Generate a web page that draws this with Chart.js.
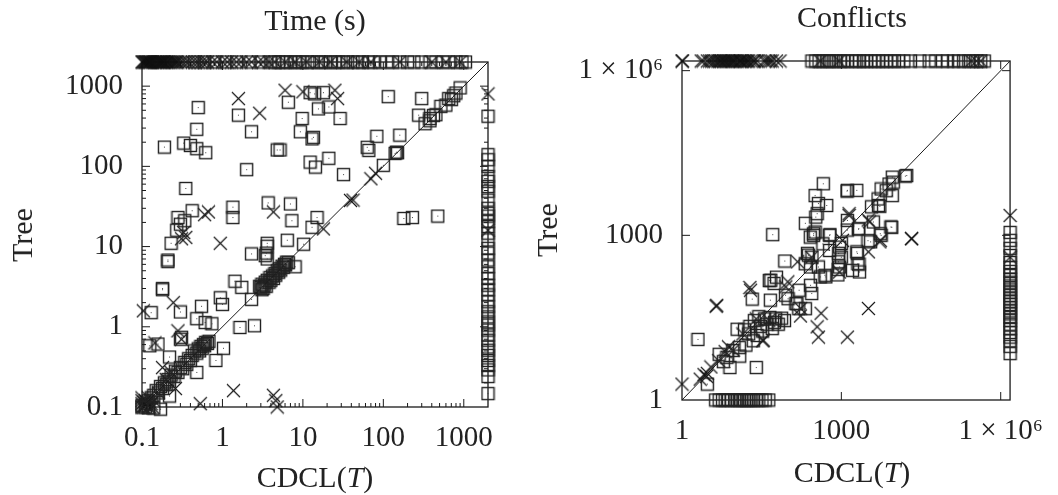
<!DOCTYPE html>
<html>
<head>
<meta charset="utf-8">
<script src="https://cdn.jsdelivr.net/npm/chart.js@4.4.1/dist/chart.umd.min.js"></script>
<style>
  body { margin:0; background:#fff; width:1058px; height:495px; overflow:hidden; position:relative;
         font-family:"Liberation Serif", serif; color:#222; }
  .box { position:absolute; top:0; width:529px; height:495px; }
  .lbl { position:absolute; font-size:30px; white-space:nowrap; transform:translate(-50%,-50%); }
  .rot { transform:translate(-50%,-50%) rotate(-90deg); }
</style>
</head>
<body>
<div class="box" style="left:0"><canvas id="c-time" width="529" height="495"></canvas></div>
<div class="box" style="left:529px"><canvas id="c-conf" width="529" height="495"></canvas></div>

<div class="lbl" style="left:315px;top:20px">Time (s)</div>
<div class="lbl rot" style="left:22px;top:235px">Tree</div>
<div class="lbl" style="left:315px;top:477px">CDCL(<i>T</i>)</div>
<div class="lbl" style="left:852px;top:17px">Conflicts</div>
<div class="lbl rot" style="left:547px;top:230px">Tree</div>
<div class="lbl" style="left:852px;top:472px">CDCL(<i>T</i>)</div>

<script>
// ---- Time (s) ----
const timeCap = 2000;
const timeTicks = [0.1, 1, 10, 100, 1000];
const timeSquares = [
  [0.50,540],[0.48,290],[0.19,174],[0.33,195],[0.40,182],[0.48,166],[0.62,148],
  [1.58,435],[2.3,270],[2.0,91],[0.35,53],[0.42,28],[0.28,23],[0.34,21],[0.30,19],[0.27,16],[0.23,11],
  [1.35,31],[1.35,23],[3.7,35],[4.8,160],[0.21,6.8],[0.21,6.5],[0.18,3.0],[0.18,2.9],[0.13,1.5],[0.30,1.53],[0.55,1.8],[0.94,2.3],[1.0,1.9],
  [0.48,1.26],[0.61,1.13],[0.74,1.09],[1.65,0.98],[2.5,1.03],[0.125,0.58],[0.158,0.61],[0.22,0.42],[0.31,0.74],[0.30,0.7],
  [1.03,0.54],[0.83,0.38],[0.48,0.27],[0.22,0.137],[0.17,0.094],[1.43,3.7],[1.74,3.1],[2.3,2.2],[2.3,8.1],[3.4,7.7],[3.6,10.1],
  [6.6,630],[12.3,830],[14,800],[18,830],[15.6,520],[21,550],[9.8,395],[9.3,270],[13.5,230],[13,220],[29,395],[5.2,160],[12.3,113],[14.3,98],[21,126],[32,79],
  [115,740],[300,700],[275,435],[380,395],[83,237],[160,245],[63,173],[66,158],[140,145],[145,150],[150,148],[100,103],
  [180,22.4],[230,23],[475,24],[7,34],[7.3,21],[13,17.4],[15,23],[10.2,10.7],[3.6,11],[3.5,8.3],[3.6,7],[6.4,12],[8,5.6],
  [330,340],[380,370],[420,430],[450,440],[520,560],[600,580],[650,700],[700,680],[750,760],[800,820],[900,950],
  [3.0,3.1],[3.1,3.4],[3.2,3.0],[3.3,3.3],[3.4,3.6],[3.5,3.2],[3.6,3.8],[3.8,3.6],[3.9,4.1],[4.0,3.8],[4.2,4.3],[4.3,4.0],[4.5,4.6],
  [4.6,4.4],[4.8,5.0],[5.0,4.8],[5.1,5.3],[5.3,5.1],[5.5,5.7],[5.7,5.5],[5.9,6.0],[6.1,5.9],[6.3,6.4],[6.6,6.3],[2.9,3.2],[3.1,2.9],
  [0.45,0.5],[0.48,0.47],[0.5,0.53],[0.52,0.5],[0.54,0.57],[0.56,0.54],[0.58,0.6],[0.6,0.58],[0.62,0.64],[0.65,0.62],[0.68,0.66],
  [0.42,0.44],[0.4,0.38],[0.38,0.4],[0.36,0.34],[0.34,0.36],[0.32,0.3],[0.3,0.31],[0.28,0.27],[0.26,0.28],[0.25,0.24],[0.23,0.25],
  [0.22,0.21],[0.21,0.22],[0.2,0.19],[0.19,0.2],[0.18,0.17],[0.17,0.18],[0.16,0.15],[0.15,0.16],[0.14,0.14],[0.13,0.13],[0.12,0.12],
  [0.115,0.11],[0.11,0.1],[0.1,0.105],[0.1,0.1],[0.14,0.097],[0.12,0.098]
];
// timeouts of CDCL(T): plotted on the right edge (x = cap)
const timeColumnSq = [422,140,121,100,75,65,56,49,38,30,26,24,20.5,17.8,14.7,12.1,9.5,8.3,6.8,5.6,4.6,4.0,3.3,2.9,2.5,
  2.05,1.78,1.54,1.33,1.15,1.05,0.91,0.79,0.68,0.56,0.51,0.44,0.38,0.33,0.29,0.24,0.147];
const timeColumnCr = [800, 16];
// timeouts of Tree: plotted on the top edge (y = cap)
const timeTopSq = [0.45,0.6,0.8,1.1,1.5,2.2,3,4,4.5,5,5.5,6.2,7,8,9,10,11.5,13,15,17,19,22,25,28,32,36,42,48,55,65,75,90,
  110,130,160,200,240,300,380,450,550,650,800,950,1050];
const timeTopCr = [0.1,0.102,0.105,0.108,0.11,0.113,0.115,0.118,0.12,0.123,0.125,0.128,0.13,0.135,0.14,0.145,0.15,0.155,
  0.16,0.165,0.17,0.175,0.18,0.185,0.19,0.2,0.205,0.21,0.22,0.23,0.24,0.25,0.26,0.27,0.28,0.3,0.32,
  0.35,0.38,0.42,0.46,0.5,0.55,0.6,0.65,0.75,0.85,1.0,1.15,1.3,1.5,1.7,2.0,2.3,2.8,3.2,3.8,4.5,6,8,11,16,22,35,50,70,160,400,600,900];
const timeCrosses = [
  [1.58,700],[2.9,460],[6.0,890],[10,850],[25,890],[27,700],[0.67,27],[0.6,25],[4.3,27],[0.33,15],[0.31,12.5],[0.35,13],
  [0.94,11],[0.245,2.0],[0.104,1.58],[0.28,0.89],[0.31,0.7],[0.145,0.63],[0.18,0.31],[0.26,0.17],[1.37,0.16],[0.53,0.11],
  [4.3,0.14],[4.6,0.12],[4.8,0.1],[39,37.6],[42,38],[70,70],[80,82],[18,16.6],
  [0.1,0.1],[0.105,0.1],[0.11,0.105],[0.1,0.11],[0.12,0.1],[0.115,0.115],[0.13,0.11],[0.1,0.12],[0.125,0.1],[0.11,0.12],
  [0.14,0.12],[0.1,0.13],[0.12,0.13],[0.105,0.115],[0.135,0.1],[0.16,0.15],[0.2,0.22],[0.23,0.27]
];

// ---- Conflicts ----
const confCap = 1.5e6;
const confTicks = [1, 1000, 1e6];
const confTickText = ['1', '1000', '1 × 10⁶'];
const confSquares = [
  [2.0,12.7],[3.0,1.95],[5.0,6.8],[8.0,3.9],[12.2,6.3],[25,3.9],[10.9,19.5],[21,69],[47,152],[60,173],[46,66],[15,19],[19,22],
  [23,28],[28,33],[36,30],[45,32],[58,30],[75,31],[30,22],[40,24],[50,20],[65,24],[18,16],[26,15],[33,18],[55,26],[85,28],
  [22,12],[16,10],[12,9],[9,8],[7,6],[6,5],
  [51,1030],[86,340],[99,70],[263,123],[160,100],[140,57],[210,46],
  [300,1070],[300,1000],[600,530],[490,187],[400,175],[263,265],[230,470],[280,400],[890,470],[880,330],[870,240],[860,190],
  [1950,500],[2050,305],[2200,215],[1000,710],[610,1030],[1300,1870],[2130,1320],[4000,1750],[3550,760],[5600,1000],
  [8600,1420],[5300,3380],[457,8700],[320,5300],[370,3800],[530,3500],[350,2480],[1300,6600],[1950,6600],[9100,11500],
  [16000,12000],[7900,8600],[9100,5300],[5600,7000],[4900,4600],[3700,3300],[2100,1300],[1300,1250],[600,1000],[450,700],
  [210,1660],[260,930],[320,1150],[330,2150],
  [44,150],[54,133],[89,81],[146,57],[158,46],[277,87],[510,175],[370,265],[240,435],[209,303],[925,610],[1000,400],[925,265],
  [1620,230],[2000,470],[2150,300],[3170,800],[5400,1070],[8900,1400],[5000,3500],[1280,6400],[7000,6500],[9500,9300],[17000,12300]
];
const confBottomSq = [4.3,5,5.8,6.5,7.5,8.5,10,11,12,13.5,15,16.5,18,20,22,25,28,32,37,43];
const confColumnSq = [1130,810,580,430,320,260,220,185,160,140,120,105,92,80,70,62,55,48,42,37,32,28,24,20,17,14,12,9.5,7];
const confColumnCr = [2300, 400];
const confTopSq = [280,330,380,450,520,600,700,800,950,1100,1300,1600,1900,2200,2600,3000,3600,4300,5000,6000,7000,8500,
  10000,12000,15000,20000,30000,45000,60000,80000,100000,130000,160000,200000,250000,300000,360000,420000,490000];
const confTopCr = [1,1.02,2.3,2.5,3,3.3,3.6,4,4.3,4.7,5,5.3,5.6,6,6.3,6.7,7,7.5,8,8.5,9,9.5,10,11,12,12.5,13,14,15,16,
  17,18,20,22,23,26,35,38,42,46,50,60,70,400,900,280000,350000,420000];
const confCrosses = [
  [1,1.95],[2.9,2.7],[3.0,3.05],[4.5,53],[4.4,51],[4.9,5.2],[7.5,9.3],[9.2,8.1],[6.5,7.6],[19,112],[19.5,100],[33,12],
  [34,12.3],[43,28.5],[90,115],[98,142],[150,330],[170,34],[172,46.5],[370,14],[350,21.5],[415,38],[1300,14],[3230,46.5],
  [920,215],[3230,500],[5400,810],[21000,870],[21000,870],[3400,1760],[1400,2300],[1400,2480],[3200,1900],[5300,760],[1050,810],
  [276,400],[2.2,2.4],[2.6,2.9],[3.5,4],[14,16],[25,30]
];

// marker images (square with a centre dot, and a diagonal cross)
function squareMark() {
  const c = document.createElement('canvas'); c.width = 15; c.height = 15;
  const g = c.getContext('2d');
  g.strokeStyle = '#222'; g.lineWidth = 1.4;
  g.strokeRect(1.5, 1.5, 12, 12);
  g.fillStyle = '#444'; g.fillRect(7, 7, 1, 1);
  return c;
}
function crossMark() {
  const c = document.createElement('canvas'); c.width = 15; c.height = 15;
  const g = c.getContext('2d');
  g.strokeStyle = '#111'; g.lineWidth = 1.1;
  g.beginPath(); g.moveTo(1, 1); g.lineTo(14, 14); g.moveTo(14, 1); g.lineTo(1, 14); g.stroke();
  return c;
}
const SQ = squareMark(), CR = crossMark();

const pairs = a => a.map(([x, y]) => ({x, y}));
const onRight = (ys, cap) => ys.map(y => ({x: cap, y}));
const onTop = (xs, cap) => xs.map(x => ({x, y: cap}));
const onBottom = (xs, v) => xs.map(x => ({x, y: v}));

// frame + inward tick marks on all four sides
const frameTicks = {
  id: 'frameTicks',
  beforeDatasetsDraw(chart, args, opts) {
    const {ctx, chartArea: a, scales: {x, y}} = chart;
    ctx.save();
    ctx.strokeStyle = '#1a1a1a'; ctx.lineWidth = 1.3;
    ctx.strokeRect(a.left, a.top, a.right - a.left, a.bottom - a.top);
    ctx.lineWidth = 1;
    ctx.beginPath();
    opts.marks.forEach(([v, len]) => {
      const px = x.getPixelForValue(v), py = y.getPixelForValue(v);
      if (px > a.left + 0.5 && px < a.right - 0.5) {
        ctx.moveTo(px, a.bottom); ctx.lineTo(px, a.bottom - len);
        ctx.moveTo(px, a.top); ctx.lineTo(px, a.top + len);
      }
      if (py > a.top + 0.5 && py < a.bottom - 0.5) {
        ctx.moveTo(a.left, py); ctx.lineTo(a.left + len, py);
        ctx.moveTo(a.right, py); ctx.lineTo(a.right - len, py);
      }
    });
    ctx.stroke();
    ctx.restore();
  }
};

const tickFont = {family: 'Liberation Serif', size: 29};

function makePlot(id, cap, min, ticks, text, pad, yWidth, xHeight, marks, sets) {
  const axis = (isY) => ({
    type: 'logarithmic', min, max: cap,
    grid: {display: false, drawTicks: false},
    border: {display: false},
    afterBuildTicks: s => { s.ticks = ticks.map(v => ({value: v})); },
    afterFit: s => { if (isY) s.width = yWidth; else s.height = xHeight; },
    ticks: {color: '#222', font: tickFont, padding: isY ? 19 : 14, maxRotation: 0, autoSkip: false,
            callback: v => text[ticks.indexOf(v)]}
  });
  new Chart(document.getElementById(id), {
    type: 'scatter',
    data: {datasets: [
      {data: [{x: min, y: min}, {x: cap, y: cap}], showLine: true, borderColor: '#1a1a1a', borderWidth: 1,
       pointRadius: 0, clip: false},
      {data: sets.sq, pointStyle: SQ, clip: false},
      {data: sets.cr, pointStyle: CR, clip: false}
    ]},
    options: {
      responsive: false, animation: false, devicePixelRatio: 1,
      layout: {padding: pad},
      plugins: {legend: {display: false}, tooltip: {enabled: false}, frameTicks: {marks}},
      scales: {x: axis(false), y: axis(true)}
    },
    plugins: [frameTicks]
  });
}

// tick marks: majors long, log minors short
const timeMarks = [];
timeTicks.forEach(t => {
  timeMarks.push([t, 8]);
  for (let k = 2; k <= 9; k++) if (t * k <= timeCap) timeMarks.push([t * k, 4]);
});
const confMarks = confTicks.map(t => [t, 8]);

makePlot('c-time', timeCap, 0.1, timeTicks, timeTicks.map(String),
  {left: 0, top: 62, right: 41, bottom: 0}, 142, 88, timeMarks, {
    sq: [...pairs(timeSquares), ...onRight(timeColumnSq, timeCap), ...onTop(timeTopSq, timeCap)],
    cr: [...pairs(timeCrosses), ...onRight(timeColumnCr, timeCap), ...onTop(timeTopCr, timeCap)]
  });

makePlot('c-conf', confCap, 1, confTicks, confTickText,
  {left: 0, top: 61, right: 37, bottom: 0}, 153, 95, confMarks, {
    sq: [...pairs(confSquares), ...onBottom(confBottomSq, 1), ...onRight(confColumnSq, confCap), ...onTop(confTopSq, confCap)],
    cr: [...pairs(confCrosses), ...onRight(confColumnCr, confCap), ...onTop(confTopCr, confCap)]
  });
</script>
</body>
</html>
